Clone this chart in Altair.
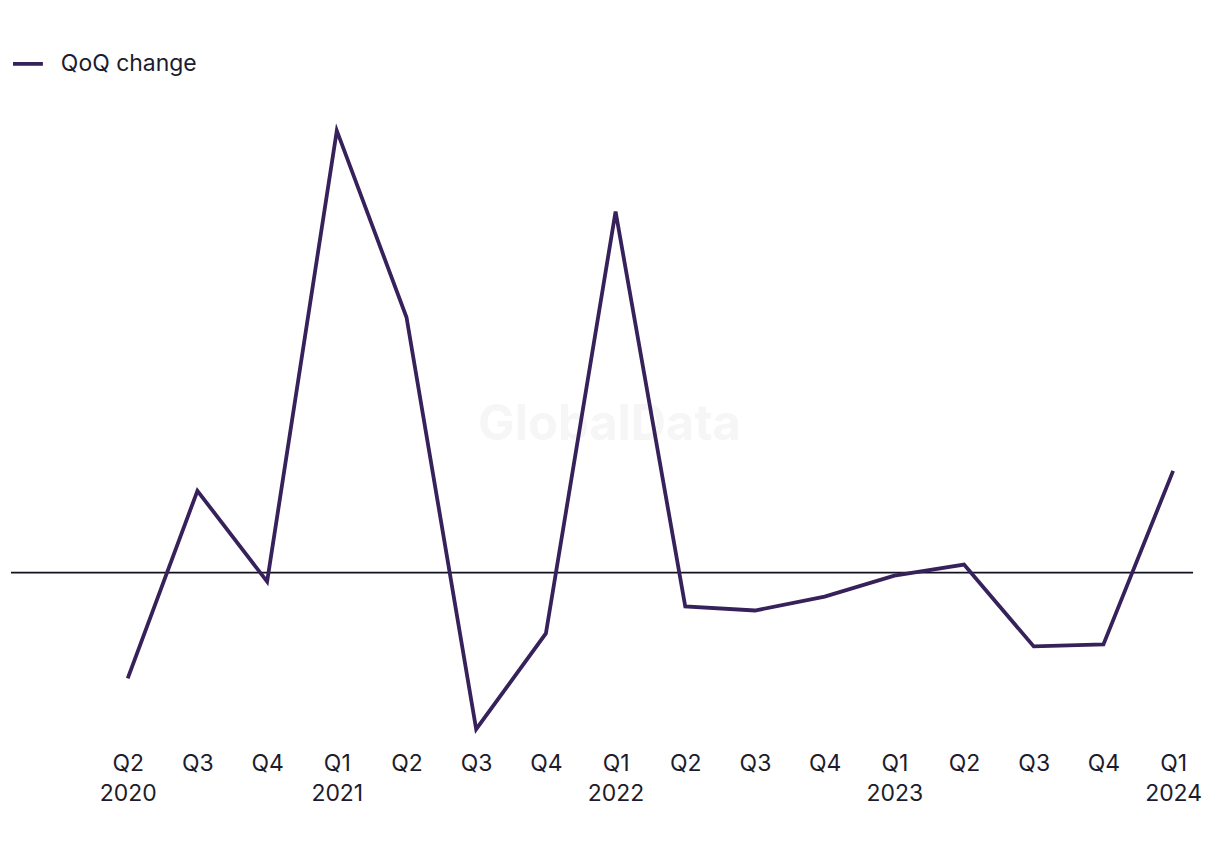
import altair as alt
import pandas as pd

quarters = ["Q2", "Q3", "Q4", "Q1", "Q2", "Q3", "Q4", "Q1",
            "Q2", "Q3", "Q4", "Q1", "Q2", "Q3", "Q4", "Q1"]
years = ["2020", "", "", "2021", "", "", "", "2022",
         "", "", "", "2023", "", "", "", "2024"]
qoq_change = [-10.6, 8.2, -0.9, 44.3, 25.6, -15.7, -6.1, 36.2,
              -3.4, -3.8, -2.4, -0.3, 0.8, -7.4, -7.2, 10.2]

labels = [q + ("\n" + y if y else "") for q, y in zip(quarters, years)]
df = pd.DataFrame({
    "idx": list(range(len(qoq_change))),
    "label": labels,
    "value": qoq_change,
    "series": ["QoQ change"] * len(qoq_change),
})

label_arr = "[" + ",".join("'" + l.replace("\n", "\\n") + "'" for l in labels) + "]"
label_expr = "split(" + label_arr + "[datum.value], '\\n')"

FONT = "Inter"
TEXT = "#1c1c2c"
LINE = "#36215a"
YDOM = [-16.8, 53.2]

x = alt.X(
    "idx:Q",
    scale=alt.Scale(domain=[-1.675, 15.286], nice=False, zero=False),
    axis=alt.Axis(
        values=list(range(len(labels))),
        labelExpr=label_expr,
        domain=False, ticks=False, grid=False, title=None,
        labelFont=FONT, labelFontSize=23, labelColor=TEXT,
        labelPadding=12, labelLineHeight=30, labelFlush=False,
        labelOverlap=False, labelBaseline="top",
    ),
)
y = alt.Y("value:Q", scale=alt.Scale(domain=YDOM, nice=False), axis=None)

watermark = alt.Chart(pd.DataFrame({"t": ["GlobalData"]})).mark_text(
    font="Inter", fontSize=49, fontWeight="bold", color="#f6f6f6"
).encode(text="t:N", x=alt.value(600), y=alt.value(384))

zero = alt.Chart(pd.DataFrame({"z": [0]})).mark_rule(
    color="#111122", strokeWidth=1.6
).encode(y=alt.Y("z:Q", scale=alt.Scale(domain=YDOM, nice=False), axis=None))

line = alt.Chart(df).mark_line(strokeWidth=3.8, strokeJoin="miter").encode(
    x=x, y=y,
    color=alt.Color(
        "series:N",
        scale=alt.Scale(range=[LINE]),
        legend=alt.Legend(
            title=None, orient="none", legendX=0, legendY=5,
            symbolType="stroke", symbolSize=900, symbolStrokeWidth=3.8,
            labelFont=FONT, labelFontSize=23, labelColor=TEXT,
            labelOffset=16,
        ),
    ),
)

chart = alt.layer(watermark, zero, line).properties(
    width=1185, height=700,
    padding={"left": 2, "top": 33, "right": 10, "bottom": 10},
).configure(background="white").configure_view(stroke=None, strokeWidth=0)

chart.save("out.html", embed_options={"renderer": "svg", "actions": False})
